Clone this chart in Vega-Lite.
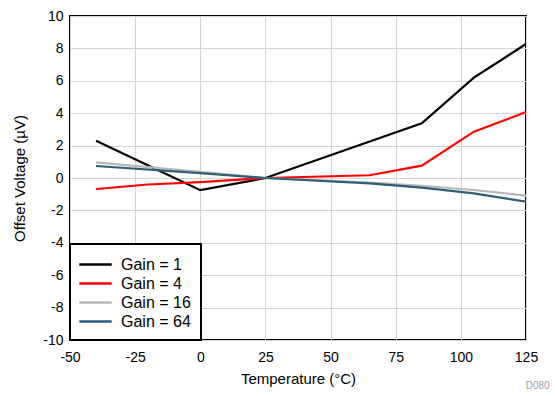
{
  "$schema": "https://vega.github.io/schema/vega-lite/v6.json",
  "width": 456,
  "height": 324,
  "autosize": "none",
  "padding": {"left": 70, "top": 16, "right": 29, "bottom": 56},
  "background": "white",
  "title": {"text": "D080", "orient": "bottom", "anchor": "end", "align": "right", "fontSize": 10, "font": "Liberation Sans", "fontWeight": "normal", "color": "#a0a0a0", "offset": 0, "dx": 12, "dy": -5},
  "config": {
    "font": "Liberation Sans",
    "view": {"stroke": "black", "strokeWidth": 2},
    "axis": {"grid": true, "gridColor": "#d4d4d4", "gridWidth": 1, "domain": false, "ticks": false, "labelFontSize": 14, "labelColor": "black", "titleFontSize": 15, "titleFontWeight": "normal", "titleColor": "black", "labelExpr": "replace(datum.label, '−', '-')"}
  },
  "data": {"values": [
    {"t": -40, "v": 2.3, "g": "Gain = 1"},
    {"t": 0, "v": -0.75, "g": "Gain = 1"},
    {"t": 25, "v": 0, "g": "Gain = 1"},
    {"t": 85, "v": 3.37, "g": "Gain = 1"},
    {"t": 105, "v": 6.2, "g": "Gain = 1"},
    {"t": 125, "v": 8.27, "g": "Gain = 1"},
    {"t": -40, "v": -0.68, "g": "Gain = 4"},
    {"t": -20, "v": -0.4, "g": "Gain = 4"},
    {"t": 0, "v": -0.25, "g": "Gain = 4"},
    {"t": 25, "v": 0, "g": "Gain = 4"},
    {"t": 65, "v": 0.17, "g": "Gain = 4"},
    {"t": 85, "v": 0.76, "g": "Gain = 4"},
    {"t": 105, "v": 2.86, "g": "Gain = 4"},
    {"t": 125, "v": 4.07, "g": "Gain = 4"},
    {"t": -40, "v": 0.97, "g": "Gain = 16"},
    {"t": 0, "v": 0.38, "g": "Gain = 16"},
    {"t": 25, "v": 0, "g": "Gain = 16"},
    {"t": 65, "v": -0.28, "g": "Gain = 16"},
    {"t": 85, "v": -0.48, "g": "Gain = 16"},
    {"t": 105, "v": -0.74, "g": "Gain = 16"},
    {"t": 125, "v": -1.09, "g": "Gain = 16"},
    {"t": -40, "v": 0.74, "g": "Gain = 64"},
    {"t": 0, "v": 0.3, "g": "Gain = 64"},
    {"t": 25, "v": 0, "g": "Gain = 64"},
    {"t": 65, "v": -0.33, "g": "Gain = 64"},
    {"t": 85, "v": -0.6, "g": "Gain = 64"},
    {"t": 105, "v": -0.95, "g": "Gain = 64"},
    {"t": 125, "v": -1.46, "g": "Gain = 64"}
  ]},
  "mark": {"type": "line", "strokeWidth": 2.2, "clip": true},
  "encoding": {
    "x": {"field": "t", "type": "quantitative", "title": "Temperature (°C)", "scale": {"domain": [-50, 125], "nice": false}, "axis": {"values": [-50, -25, 0, 25, 50, 75, 100, 125], "labelFlush": false, "labelPadding": 10, "titlePadding": 7}},
    "y": {"field": "v", "type": "quantitative", "title": "Offset Voltage (µV)", "scale": {"domain": [-10, 10], "nice": false}, "axis": {"values": [-10, -8, -6, -4, -2, 0, 2, 4, 6, 8, 10], "labelFlush": false, "labelPadding": 7, "titlePadding": 15}},
    "color": {"field": "g", "type": "nominal", "sort": ["Gain = 1", "Gain = 4", "Gain = 16", "Gain = 64"],
      "scale": {"domain": ["Gain = 1", "Gain = 4", "Gain = 16", "Gain = 64"], "range": ["#000000", "#ff0000", "#b8b8b8", "#2f5f78"]},
      "legend": {"title": null, "orient": "bottom-left", "offset": 0, "symbolType": "M-1.8,0H1.8", "symbolSize": 324, "symbolStrokeWidth": 2.5, "symbolOffset": 5, "labelFontSize": 16, "labelColor": "black", "strokeColor": "black", "fillColor": "white", "padding": 10, "rowPadding": 0, "labelOffset": 15,
        "encode": {"legend": {"update": {"strokeWidth": {"value": 2}}}}}
    }
  }
}
